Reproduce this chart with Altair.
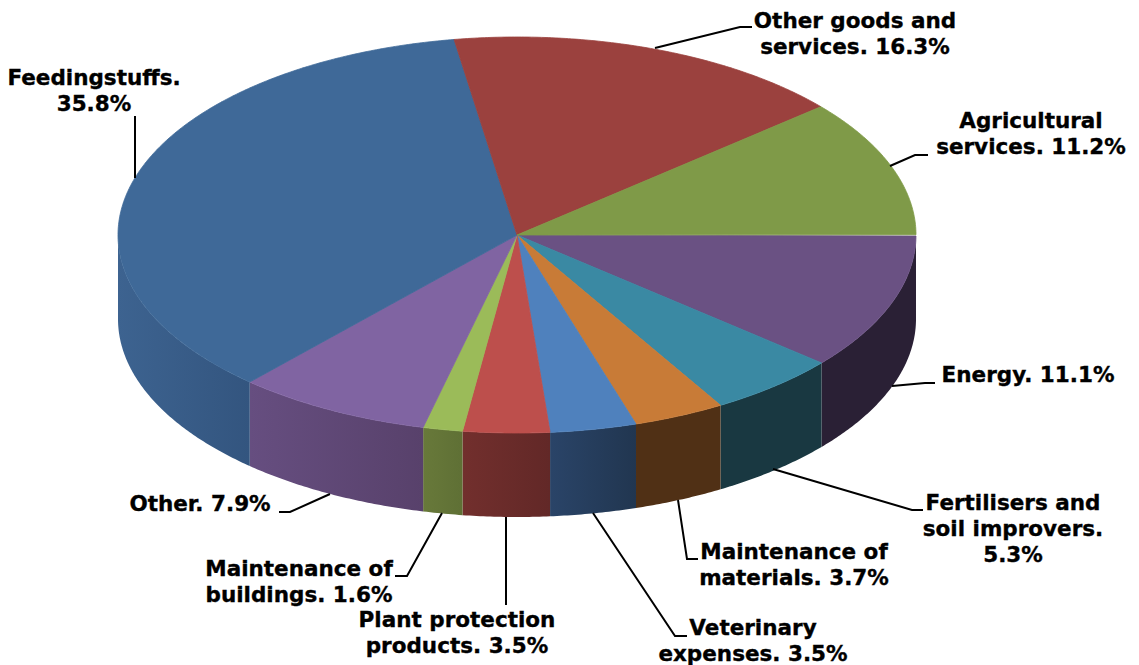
import numpy as np
import pandas as pd
import altair as alt

# Values, clockwise from the right-hand edge of the pie
names = ["Energy", "Fertilisers", "Maintenance of materials", "Veterinary expenses",
         "Plant protection products", "Maintenance of buildings", "Other",
         "Feedingstuffs", "Other goods and services", "Agricultural services"]
shares = [11.1, 5.3, 3.7, 3.5, 3.5, 1.6, 7.9, 35.8, 16.3, 11.2]
label_texts = ["Energy. 11.1%", "Fertilisers and\nsoil improvers.\n5.3%",
               "Maintenance of\nmaterials. 3.7%", "Veterinary\nexpenses. 3.5%",
               "Plant protection\nproducts. 3.5%", "Maintenance of\nbuildings. 1.6%",
               "Other. 7.9%", "Feedingstuffs.\n35.8%", "Other goods and\nservices. 16.3%",
               "Agricultural\nservices. 11.2%"]

# Styles
top_colors = ["#6A5183", "#3A89A3", "#C87B37", "#4F81BD", "#BD4F4C",
              "#9BBB59", "#8064A2", "#3F6998", "#9B413E", "#7F9A48"]
# left-hand and right-hand colour of each visible side wall
wall_colors = [("#2A2035", "#2A2035"), ("#193841", "#193841"), ("#503015", "#503015"),
               ("#2A4468", "#213650"), ("#722F2D", "#622827"), ("#68793A", "#5F7035"),
               ("#664E80", "#58416B"), ("#3D6390", "#33557F")]

# Layout, in page pixels
CX, CY, RX, RY, DEPTH = 517.0, 235.0, 399.0, 198.0, 84.0
START = 0.005
W, H, M = 1123, 657, 8
FONT = "DejaVu Sans"
FS = 21.5
label_pos = [(1028, 376), (1013, 504), (794, 553), (753, 629), (457, 621),
             (299, 570), (200, 505), (94, 79), (855, 22), (1031, 122)]
leaders = [[(892, 386), (925, 383), (935, 383)],
           [(773, 469), (912, 510), (923, 510)],
           [(678, 500), (687, 559), (698, 559)],
           [(593, 513), (675, 636), (687, 636)],
           [(506, 517), (506, 605)],
           [(442, 513), (407, 576), (395, 576)],
           [(330, 494), (290, 512), (279, 512)],
           [(135, 178), (135, 116)],
           [(655, 48), (740, 27), (752, 27)],
           [(890, 166), (915, 155), (928, 155)]]

xs = alt.X("x:Q", axis=None, scale=alt.Scale(domain=[M, M + W], range=[0, W], nice=False, zero=False))
ys = alt.Y("y:Q", axis=None, scale=alt.Scale(domain=[M + H, M], range=[H, 0], nice=False, zero=False))
ord_ = alt.Order("i:Q")


def rim(t0, t1, dy=0.0):
    n = max(2, int(abs(t1 - t0) * 120))
    t = np.linspace(t0, t1, n)
    return list(CX + RX * np.cos(t)), list(CY + dy + RY * np.sin(t))


def poly(px, py, **mark):
    df = pd.DataFrame({"x": px, "y": py, "i": range(len(px))})
    return alt.Chart(df).mark_line(**mark).encode(x=xs, y=ys, order=ord_)


edges = START + np.concatenate([[0.0], np.cumsum(shares)]) / 100.0 * 2 * np.pi

walls, tops = [], []
for k in range(len(names)):
    a, b = edges[k], edges[k + 1]
    # slice top: centre, along the rim, back to the centre
    rx_, ry_ = rim(a, b)
    px, py = [CX] + rx_ + [CX], [CY] + ry_ + [CY]
    tops.append(poly(px, py, fill=top_colors[k], stroke=top_colors[k], strokeWidth=0.8))
    # visible side wall: front half of the rim only
    if a < np.pi:
        e = min(b, np.pi)
        ux, uy = rim(a, e)
        lx, ly = rim(a, e, DEPTH)
        c_left, c_right = wall_colors[k]
        grad = alt.Gradient(gradient="linear", x1=0, x2=1, y1=0, y2=0,
                            stops=[alt.GradientStop(offset=0, color=c_left),
                                   alt.GradientStop(offset=1, color=c_right)])
        walls.append(poly(ux + lx[::-1] + [ux[0]], uy + ly[::-1] + [uy[0]],
                          fill=grad, strokeWidth=0))

lead_layers = []
for pts in leaders:
    lead_layers.append(poly([p[0] for p in pts], [p[1] for p in pts],
                            color="black", strokeWidth=2))

labels = pd.DataFrame({"x": [p[0] for p in label_pos], "y": [p[1] for p in label_pos],
                       "t": label_texts})
text = alt.Chart(labels).mark_text(font=FONT, fontWeight="bold", fontSize=FS, color="black",
                                   stroke="black", strokeWidth=0.35,
                                   align="center", baseline="middle", lineBreak="\n",
                                   lineHeight=26).encode(x=xs, y=ys, text="t:N")

chart = alt.layer(*walls, *tops, *lead_layers, text).properties(
    width=W, height=H, padding=0, background="white",
    autosize=alt.AutoSizeParams(type="none"),
).configure_view(stroke=None)

chart.save("out.html", embed_options={"renderer": "svg", "actions": False})
